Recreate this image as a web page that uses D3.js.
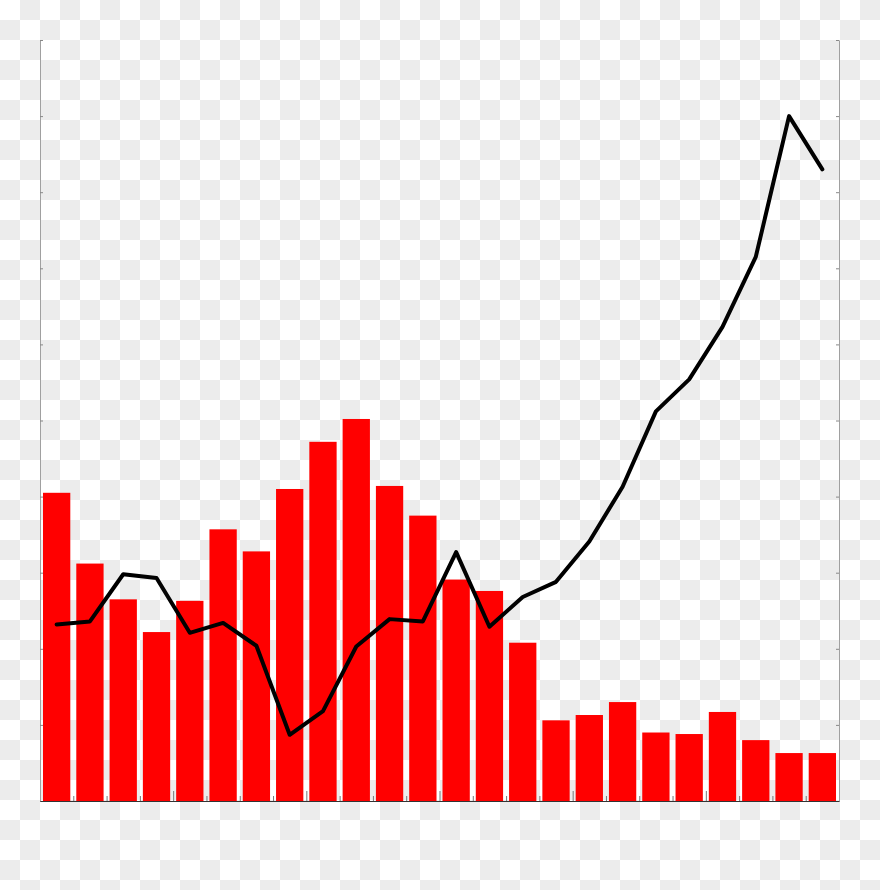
<!DOCTYPE html>
<html>
<head>
<meta charset="utf-8">
<script src="https://cdn.jsdelivr.net/npm/d3@7"></script>
<style>
  html, body { margin: 0; padding: 0; background: #fff; }
  svg { display: block; }
</style>
</head>
<body>
<svg id="chart" width="880" height="890"></svg>
<script>
// ---- data ----
const categories = d3.range(1, 25).map(String);
const barValues = [4.05, 3.12, 2.65, 2.22, 2.63, 3.57, 3.28, 4.10, 4.72, 5.02, 4.14, 3.75,
                   2.91, 2.76, 2.08, 1.06, 1.13, 1.30, 0.90, 0.88, 1.17, 0.80, 0.63, 0.63];
const lineValues = [2.32, 2.36, 2.98, 2.93, 2.21, 2.34, 2.04, 0.87, 1.18, 2.03, 2.39, 2.36,
                    3.27, 2.29, 2.68, 2.88, 3.41, 4.13, 5.12, 5.54, 6.23, 7.15, 9.00, 8.30];
const yTicks = d3.range(0, 11);
const xTickPositions = d3.range(1, 24);

// ---- layout ----
const W = 880, H = 890;
const plotL = 40, plotR = 839, plotT = 40, plotB = 801;

const svg = d3.select("#chart");

// checkerboard background
const defs = svg.append("defs");
const pat = defs.append("pattern")
  .attr("id", "checker").attr("width", 40).attr("height", 40)
  .attr("patternUnits", "userSpaceOnUse");
pat.append("rect").attr("width", 40).attr("height", 40).attr("fill", "#ffffff");
pat.append("rect").attr("x", 20).attr("y", 0).attr("width", 20).attr("height", 20).attr("fill", "#ececec");
pat.append("rect").attr("x", 0).attr("y", 20).attr("width", 20).attr("height", 20).attr("fill", "#ececec");
svg.append("rect").attr("width", W).attr("height", H).attr("fill", "url(#checker)");

// scales
const x = d3.scaleBand().domain(categories).range([plotL, plotR])
  .paddingInner(0.18).paddingOuter(0.09);
const xLin = d3.scaleLinear().domain([0, 24]).range([plotL, plotR]);
const y = d3.scaleLinear().domain([0, 10]).range([plotB, plotT]);

// bars
svg.append("g").selectAll("rect")
  .data(barValues)
  .join("rect")
  .attr("x", (d, i) => x(categories[i]))
  .attr("y", d => y(d))
  .attr("width", x.bandwidth())
  .attr("height", d => y(0) - y(d))
  .attr("fill", "#ff0000");

// left axis
const gl = svg.append("g").attr("transform", `translate(${plotL},0)`)
  .call(d3.axisLeft(y).tickValues(yTicks).tickSizeInner(-3).tickSizeOuter(0).tickFormat(""));
gl.select(".domain").attr("stroke", "#a0a0a0");
gl.selectAll(".tick line").attr("stroke", "#888");

// right axis
const gr = svg.append("g").attr("transform", `translate(${plotR},0)`)
  .call(d3.axisRight(y).tickValues(yTicks).tickSizeInner(-3).tickSizeOuter(0).tickFormat(""));
gr.select(".domain").attr("stroke", "#a0a0a0");
gr.selectAll(".tick line").attr("stroke", "#888");

// bottom axis
const gb = svg.append("g").attr("transform", `translate(0,${plotB})`)
  .call(d3.axisBottom(xLin).tickValues(xTickPositions).tickSizeInner(-5).tickSizeOuter(0).tickFormat(""));
gb.select(".domain").attr("stroke", "#333");
gb.selectAll(".tick line")
  .attr("stroke", "#777")
  .attr("y2", d => d % 4 === 0 ? -10 : -5);

// line
const line = d3.line()
  .x((d, i) => x(categories[i]) + x.bandwidth() / 2)
  .y(d => y(d));
svg.append("path")
  .datum(lineValues)
  .attr("d", line)
  .attr("fill", "none")
  .attr("stroke", "#000")
  .attr("stroke-width", 4)
  .attr("stroke-linejoin", "round")
  .attr("stroke-linecap", "round");
</script>
</body>
</html>
